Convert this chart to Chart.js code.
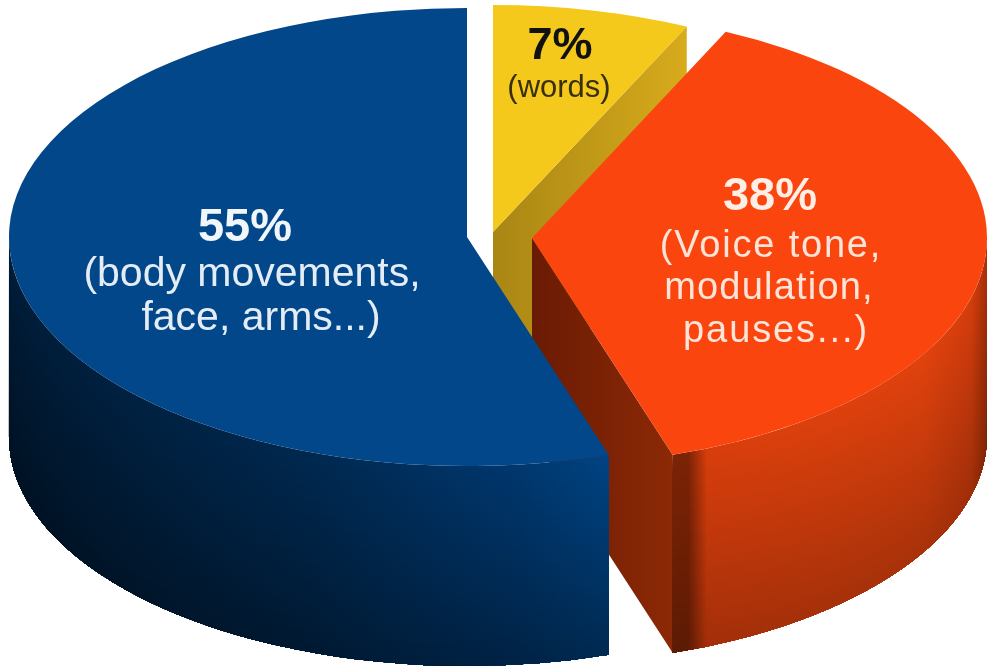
<!DOCTYPE html>
<html>
<head>
<meta charset="utf-8">
<title>Communication pie</title>
<script src="https://cdn.jsdelivr.net/npm/chart.js@4"></script>
<style>
    html, body { margin: 0; background: #fff; }
    canvas { display: block; }
</style>
</head>
<body>
<canvas id="pie" width="987" height="666"></canvas>
<script>
// Clockwise from twelve o'clock
const categories = ['words', 'voice', 'body'];
const shares = [7, 38, 55];
const topColors = ['#f5c91c', '#fb450e', '#02478a'];

const percentLabels = ['7%', '38%', '55%'];
const detailLabels = [
    ['(words)'],
    ['(Voice tone,', 'modulation,', 'pauses...)'],
    ['(body movements,', 'face, arms...)']
];

// Where each slice sits once flattened and pulled apart
const sliceGeometry = [
    { x: 493, y: 232, rx: 455, ry: 227, depth: 198 },
    { x: 532, y: 238, rx: 455, ry: 228, depth: 198 },
    { x: 467, y: 237, rx: 458, ry: 229, depth: 200 }
];

const wallStops = [
    [[0, '#d4a81c'], [1, '#a88213']],
    [[0, '#7c2305'], [0.05, '#7c2305'], [0.11, '#d83e0c'], [0.8, '#e0420d'], [0.95, '#d43d0c'], [1, '#a83008']],
    [[0, '#001c38'], [0.5, '#00284f'], [0.85, '#00376e'], [1, '#004383']]
];
const faceStops = [
    [[0, '#a98614'], [1, '#d8ab1c']],
    [[0, '#6a1b04'], [1, '#8c2906']],
    [[0, '#001c38'], [1, '#001c38']]
];
// How much the rim darkens between its top edge and its base
const wallShade = [0.2, 0.25, 0.38];

const labelLayout = [
    { color: '#111', detail: '#3a2f0c', cx: 560, base: 59, size: 45, detailSize: 31, lines: [97] },
    { color: '#fdeee6', detail: '#fde4d8', cx: 770, base: 210, size: 47, detailSize: 38, lines: [257, 299, 342] },
    { color: '#f1f6fb', detail: '#e4edf6', cx: 245, base: 241, size: 47, detailSize: 41, lines: [286, 330] }
];
const detailCentres = [[559], [771, 769, 776], [252, 261]];
const detailSpacing = [[0], [1.8, 1.2, 1.9], [0, 0]];

const SHADE_STEPS = 66;

function gradient(ctx, x0, y0, x1, y1, stops) {
    const g = ctx.createLinearGradient(x0, y0, x1, y1);
    stops.forEach(s => g.addColorStop(s[0], s[1]));
    return g;
}

function darken(hex, factor) {
    const n = parseInt(hex.slice(1), 16);
    const r = Math.round((n >> 16) * factor);
    const g = Math.round(((n >> 8) & 255) * factor);
    const b = Math.round((n & 255) * factor);
    return `rgb(${r},${g},${b})`;
}

// Outer rim, front half only. The shade follows the curve of the rim,
// so it is painted as opaque bands stepping down the wall.
function drawWall(ctx, geo, start, end, stops, shade) {
    const from = Math.max(start, 0);
    const to = Math.min(end, Math.PI);
    if (to <= from) return;
    const left = geo.x + geo.rx * Math.cos(to);
    const right = geo.x + geo.rx * Math.cos(from);
    for (let s = 0; s < SHADE_STEPS; s++) {
        const t = s / SHADE_STEPS;
        ctx.beginPath();
        ctx.ellipse(geo.x, geo.y + geo.depth * t, geo.rx, geo.ry, 0, from, to);
        ctx.ellipse(geo.x, geo.y + geo.depth, geo.rx, geo.ry, 0, to, from, true);
        ctx.closePath();
        const shaded = stops.map(c => [c[0], darken(c[1], 1 - shade * t)]);
        ctx.fillStyle = gradient(ctx, left, 0, right, 0, shaded);
        ctx.fill();
    }
}

// Flat cut face running from the slice centre out to the rim
function drawFace(ctx, geo, angle, stops) {
    if (Math.cos(angle) <= 0.001) return;
    const px = geo.x + geo.rx * Math.cos(angle);
    const py = geo.y + geo.ry * Math.sin(angle);
    ctx.beginPath();
    ctx.moveTo(geo.x, geo.y);
    ctx.lineTo(px, py);
    ctx.lineTo(px, py + geo.depth);
    ctx.lineTo(geo.x, geo.y + geo.depth);
    ctx.closePath();
    ctx.fillStyle = gradient(ctx, geo.x, 0, px, 0, stops);
    ctx.fill();
}

const pie3d = {
    id: 'pie3d',
    beforeDatasetDraw(chart, args) {
        const ctx = chart.ctx;
        const arcs = chart.getDatasetMeta(args.index).data;
        arcs.forEach((arc, i) => {
            const geo = sliceGeometry[i];
            drawFace(ctx, geo, arc.endAngle, faceStops[i]);
            drawWall(ctx, geo, arc.startAngle, arc.endAngle, wallStops[i], wallShade[i]);
            // Top surface is the library's own arc, squashed into an ellipse
            ctx.save();
            ctx.translate(geo.x, geo.y);
            ctx.scale(geo.rx / arc.outerRadius, geo.ry / arc.outerRadius);
            ctx.translate(-arc.x, -arc.y);
            arc.draw(ctx);
            ctx.restore();
        });
        return false;
    },
    afterDraw(chart) {
        const ctx = chart.ctx;
        ctx.save();
        ctx.textAlign = 'center';
        ctx.textBaseline = 'alphabetic';
        labelLayout.forEach((l, i) => {
            ctx.letterSpacing = '0px';
            ctx.fillStyle = l.color;
            ctx.font = `bold ${l.size}px "Liberation Sans"`;
            ctx.fillText(percentLabels[i], l.cx, l.base);
            ctx.fillStyle = l.detail;
            ctx.font = `${l.detailSize}px "Liberation Sans"`;
            detailLabels[i].forEach((line, n) => {
                ctx.letterSpacing = detailSpacing[i][n] + 'px';
                ctx.fillText(line, detailCentres[i][n], l.lines[n]);
            });
        });
        ctx.restore();
    }
};

new Chart(document.getElementById('pie'), {
    type: 'pie',
    data: {
        labels: categories,
        datasets: [{
            data: shares,
            backgroundColor: topColors,
            borderWidth: 0
        }]
    },
    options: {
        responsive: false,
        animation: false,
        rotation: 0,
        layout: { padding: 0 },
        plugins: {
            legend: { display: false },
            tooltip: { enabled: false }
        }
    },
    plugins: [pie3d]
});
</script>
</body>
</html>
